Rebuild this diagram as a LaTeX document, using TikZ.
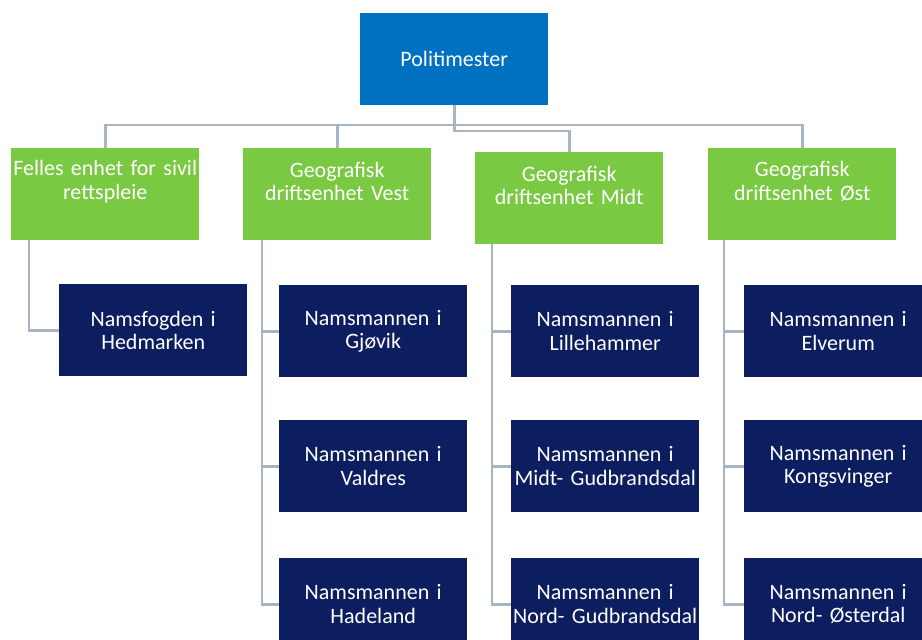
\documentclass[tikz,border=0pt]{standalone}
\usepackage{fontspec}
\setmainfont{Carlito}
\definecolor{topblue}{HTML}{0070C0}
\definecolor{lgreen}{HTML}{7AC943}
\definecolor{navy}{HTML}{0C1E60}
\definecolor{connc}{HTML}{A8B3C3}
\begin{document}
\begin{tikzpicture}[x=1pt,y=-1pt,
  boxbase/.style={anchor=north west, minimum width=188pt, minimum height=92pt, inner sep=0pt, text width=188pt, align=center, text=white, font=\fontsize{22}{23.5}\selectfont},
  rootbox/.style={boxbase, fill=topblue},
  greenbox/.style={boxbase, fill=lgreen},
  gtext/.style={inner sep=0pt, text width=188pt, align=center, text=white, font=\fontsize{22}{23.5}\selectfont},
  navybox/.style={boxbase, fill=navy},
  conn/.style={draw=connc, line width=2.6pt, line join=miter}]
\useasboundingbox (0,0) rectangle (922,640);
\clip (0,0) rectangle (922,640);
\fill[white] (0,0) rectangle (922,640);

% root
\node[rootbox] (root) at (360,13) {Politimester};

% green units
\node[greenbox] (g1) at (11,148) {};
\node[greenbox] (g2) at (243,148) {};
\node[greenbox] (g3) at (475,152) {};
\node[greenbox] (g4) at (708,148) {};
\node[gtext] (g1t) at ([yshift=-33.5pt]g1.north) {Felles enhet for sivil\\rettspleie};
\node[gtext] (g2t) at ([yshift=-33.5pt]g2.north) {Geografisk\\driftsenhet Vest};
\node[gtext] (g3t) at ([yshift=-33.5pt]g3.north) {Geografisk\\driftsenhet Midt};
\node[gtext] (g4t) at ([yshift=-33.5pt]g4.north) {Geografisk\\driftsenhet Øst};

% navy boxes
\node[navybox] (n1) at (59,284) {Namsfogden i\\Hedmarken};
\node[navybox] (n21) at (279,285) {Namsmannen i\\Gjøvik};
\node[navybox] (n22) at (279,420) {Namsmannen i\\Valdres};
\node[navybox] (n23) at (279,558) {Namsmannen i\\Hadeland};
\node[navybox] (n31) at (511,285) {Namsmannen i\\Lillehammer};
\node[navybox] (n32) at (511,420) {Namsmannen i\\Midt- Gudbrandsdal};
\node[navybox] (n33) at (511,558) {Namsmannen i\\Nord- Gudbrandsdal};
\node[navybox] (n41) at (744,285) {Namsmannen i\\Elverum};
\node[navybox] (n42) at (744,420) {Namsmannen i\\Kongsvinger};
\node[navybox] (n43) at (744,558) {Namsmannen i\\Nord- Østerdal};

% top connectors
\coordinate (bus) at (0,125);
\coordinate (rb) at (0,131);
\draw[conn] (g1.north) -- (g1.north |- bus) -- (g4.north |- bus) -- (g4.north);
\draw[conn] (g2.north) -- (g2.north |- bus);
\draw[conn] (root.south) -- (root.south |- rb) -- (g3.north |- rb) -- (g3.north);

% column trunks
\coordinate (t1) at (29,0);
\coordinate (t2) at (262,0);
\coordinate (t3) at (492,0);
\coordinate (t4) at (724,0);
\draw[conn] (g1.south -| t1) -- (n1.west -| t1) -- (n1.west);

\draw[conn] (g2.south -| t2) -- (n23.west -| t2) -- (n23.west);
\draw[conn] (n21.west -| t2) -- (n21.west);
\draw[conn] (n22.west -| t2) -- (n22.west);

\draw[conn] (g3.south -| t3) -- (n33.west -| t3) -- (n33.west);
\draw[conn] (n31.west -| t3) -- (n31.west);
\draw[conn] (n32.west -| t3) -- (n32.west);

\draw[conn] (g4.south -| t4) -- (n43.west -| t4) -- (n43.west);
\draw[conn] (n41.west -| t4) -- (n41.west);
\draw[conn] (n42.west -| t4) -- (n42.west);
\end{tikzpicture}
\end{document}
